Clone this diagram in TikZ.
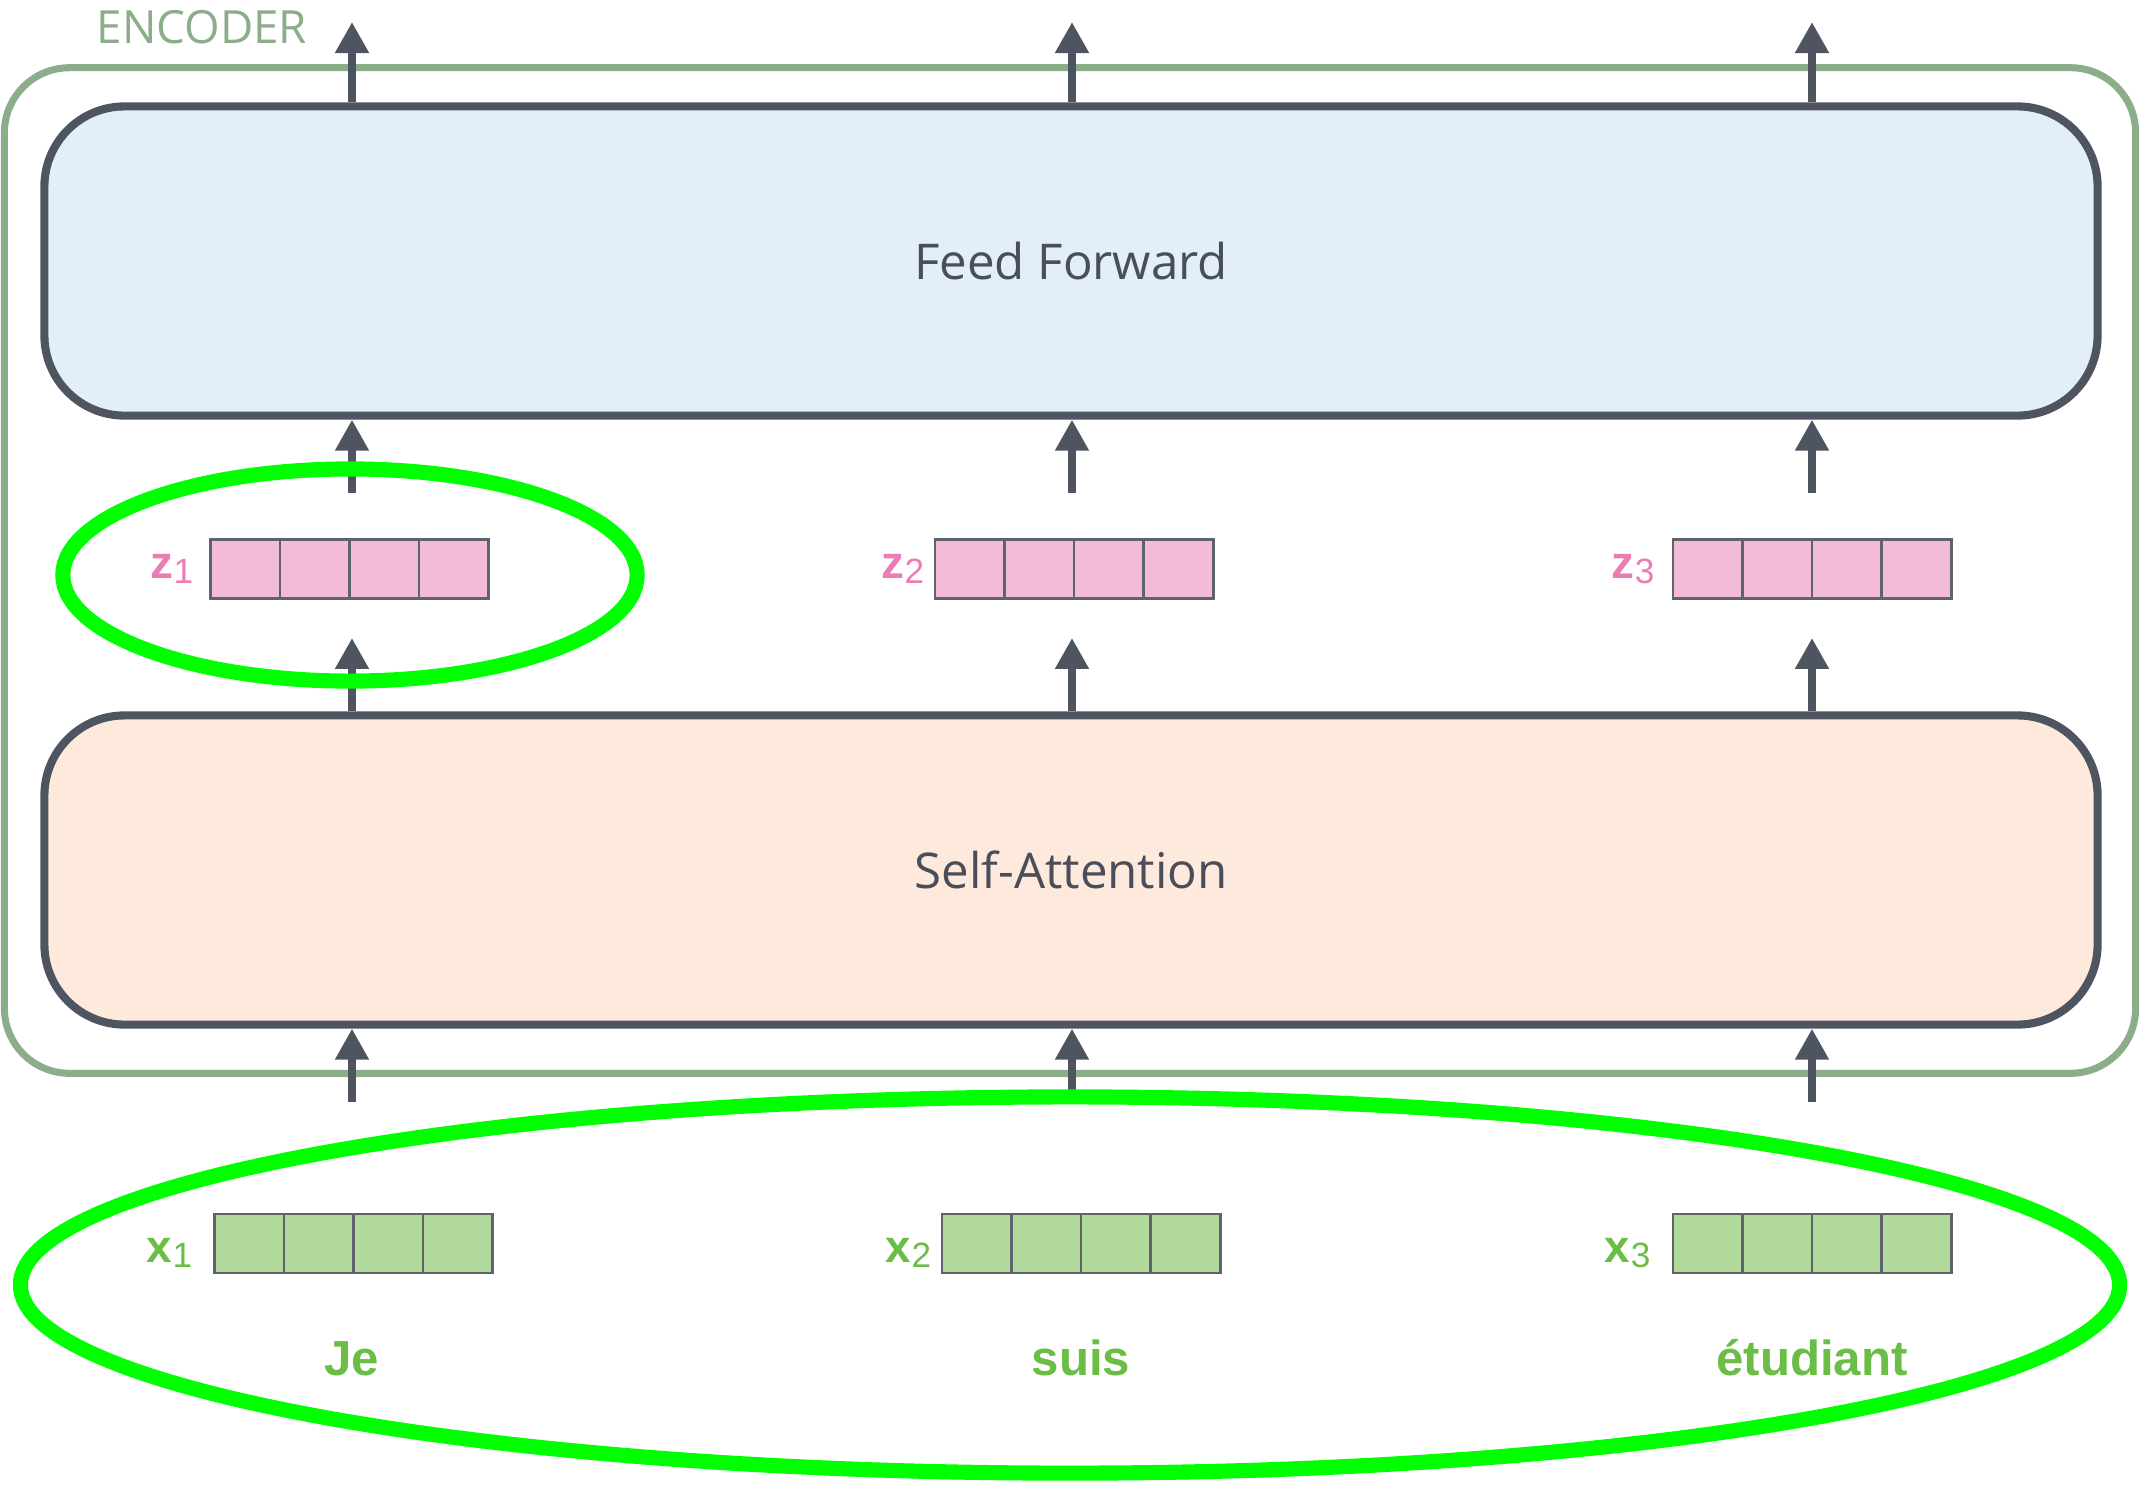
\documentclass[tikz,border=0pt]{standalone}
\usepackage{fontspec}
\setmainfont{Open Sans}
\newfontfamily\wordfont{Liberation Sans}
\usetikzlibrary{arrows.meta,shapes.geometric}

\definecolor{encgreen}{HTML}{8CAD89}
\definecolor{darkline}{HTML}{4F5461}
\definecolor{boxtext}{HTML}{4A4E58}
\definecolor{ffblue}{HTML}{E2EEF8}
\definecolor{safill}{HTML}{FDEADC}
\definecolor{pinkfill}{HTML}{F3BBD8}
\definecolor{pinktext}{HTML}{EB7DB5}
\definecolor{vecgreen}{HTML}{B0D99B}
\definecolor{wordgreen}{HTML}{6BBE45}
\definecolor{cellline}{HTML}{5F636C}
\definecolor{hilite}{HTML}{00FF00}

% vector label: bold letter with a lighter, lowered index
\newcommand\veclab[2]{{\bfseries #1}\kern0.2pt{\fontsize{10}{12}\selectfont\raisebox{-0.05cm}{#2}}}

\tikzset{
  encbox/.style={draw=encgreen, line width=2pt, rounded corners=0.65cm,
    minimum width=21.30cm, minimum height=10.05cm, inner sep=0pt},
  layerbox/.style={draw=darkline, line width=2.3pt, rounded corners=0.8cm,
    minimum width=20.52cm, minimum height=3.09cm, inner sep=0pt,
    text=boxtext, font=\fontsize{14}{17}\selectfont},
  vecbox/.style={draw=cellline, line width=0.8pt, minimum width=2.78cm,
    minimum height=0.59cm, inner sep=0pt,
    path picture={
      \foreach \k in {1,2,3}
        \draw[cellline, line width=0.8pt]
          ([xshift=\k*0.695cm]path picture bounding box.north west) --
          ([xshift=\k*0.695cm]path picture bounding box.south west);
    }},
  zvec/.style={vecbox, fill=pinkfill},
  xvec/.style={vecbox, fill=vecgreen},
  zlab/.style={anchor=base east, inner sep=0pt, text=pinktext,
    font=\wordfont\fontsize{13}{15}\selectfont},
  xlab/.style={anchor=base east, inner sep=0pt, text=wordgreen,
    font=\wordfont\fontsize{13}{15}\selectfont},
  word/.style={anchor=base, inner sep=0pt, text=wordgreen,
    font=\wordfont\bfseries\fontsize{14}{17}\selectfont},
  flow/.style={draw=darkline, line width=2.3pt,
    -{Triangle[width=0.32cm,length=0.31cm]}},
  ring/.style={draw=hilite, line width=4.3pt, ellipse, inner sep=0pt}
}

\begin{document}
\begin{tikzpicture}[x=0.01cm, y=-0.01cm]
  \useasboundingbox (0,0) rectangle (2139,1490);

  % encoder frame and its title
  \node[encbox] (enc) at (1070,570.5) {};
  \node[anchor=base, inner sep=0pt, text=encgreen,
        font=\fontsize{13}{16}\selectfont] (enctitle) at (202,43) {ENCODER};

  % the two sub-layers
  \node[layerbox, fill=ffblue] (ff) at (1071,261) {Feed Forward};
  \node[layerbox, fill=safill] (sa) at (1071,870) {Self-Attention};

  % columns of the three positions
  \coordinate (c1) at (352,0);
  \coordinate (c2) at (1072,0);
  \coordinate (c3) at (1812,0);

  % outputs of self-attention
  \node[zvec] (z1) at (349.5,569) {};
  \node[zvec] (z2) at (1074,569) {};
  \node[zvec] (z3) at (1812,569) {};
  \node[zlab] (lz1) at (194,578) {\veclab{z}{1}};
  \node[zlab] (lz2) at (925,578) {\veclab{z}{2}};
  \node[zlab] (lz3) at (1655,578) {\veclab{z}{3}};

  % input embeddings
  \node[xvec] (x1) at (353.5,1243.5) {};
  \node[xvec] (x2) at (1081,1243.5) {};
  \node[xvec] (x3) at (1812,1243.5) {};
  \node[xlab] (lx1) at (193,1262) {\veclab{x}{1}};
  \node[xlab] (lx2) at (932,1262) {\veclab{x}{2}};
  \node[xlab] (lx3) at (1651,1262) {\veclab{x}{3}};

  % input words
  \node[word] (w1) at (352,1375) {Je};
  \node[word] (w2) at (1081,1375) {suis};
  \node[word] (w3) at (1812,1375) {étudiant};

  % outputs leaving the encoder
  \coordinate (o1) at (352,22);
  \coordinate (o2) at (1072,22);
  \coordinate (o3) at (1812,22);

  \foreach \i in {1,2,3}{
    \draw[flow, shorten <=1.11cm] (x\i.north -| c\i) -- (sa.south -| c\i);
    \draw[flow, shorten >=0.38cm] (sa.north -| c\i) -- (z\i.south -| c\i);
    \draw[flow, shorten <=0.45cm] (z\i.north -| c\i) -- (ff.south -| c\i);
    \draw[flow] (ff.north -| c\i) -- (o\i);
  }

  % highlight rings
  \node[ring, minimum width=5.74cm, minimum height=2.12cm] (ringz) at (350,575) {};
  \node[ring, minimum width=20.98cm, minimum height=3.76cm] (ringx) at (1070,1285) {};
\end{tikzpicture}
\end{document}
